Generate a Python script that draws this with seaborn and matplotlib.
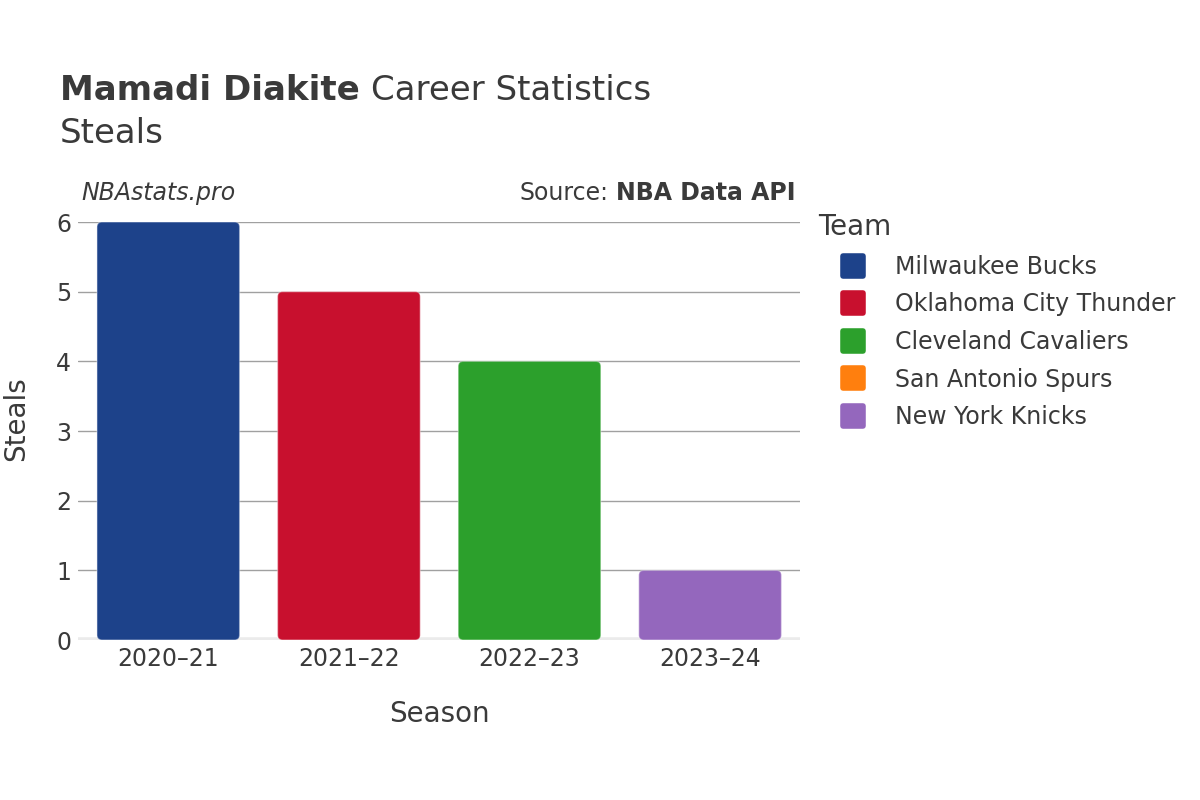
import matplotlib
matplotlib.use("Agg")
import matplotlib.pyplot as plt
import seaborn as sns
import pandas as pd
from matplotlib.patches import FancyBboxPatch
from matplotlib.lines import Line2D
from matplotlib.markers import MarkerStyle

# ===============================
# DATA
# ===============================
seasons = ["2020–21", "2021–22", "2022–23", "2023–24"]
teams = ["Milwaukee Bucks", "Oklahoma City Thunder", "Cleveland Cavaliers", "New York Knicks"]
steals = [6, 5, 4, 1]

legend_teams = ["Milwaukee Bucks", "Oklahoma City Thunder", "Cleveland Cavaliers",
                "San Antonio Spurs", "New York Knicks"]
team_colors = ["#1d428a", "#c8102e", "#2ca02c", "#ff7f0e", "#9467bd"]
palette = dict(zip(legend_teams, team_colors))

df = pd.DataFrame({"Season": seasons, "Team": teams, "Steals": steals})

# ===============================
# STYLE
# ===============================
sns.set_style("white")
plt.rcParams["font.family"] = ["DejaVu Sans"]
text_color = "#3a3a3a"

fig = plt.figure(figsize=(12, 8), dpi=100)
ax = fig.add_axes([0.065, 0.2, 0.602, 0.5225])

sns.barplot(data=df, x="Season", y="Steals", hue="Team", palette=palette,
            dodge=False, width=0.79, ax=ax, legend=False, saturation=1)

# rounded bars
x_per_px = 4 / (0.602 * 1200)
y_per_px = 6 / (0.5225 * 800)
for p in list(ax.patches):
    x, y = p.get_x(), p.get_y()
    w, h = p.get_width(), p.get_height()
    if h <= 0:
        p.remove()
        continue
    fc = p.get_facecolor()
    rb = FancyBboxPatch((x, y), w, h,
                        boxstyle=f"round,pad=0,rounding_size={5 * x_per_px}",
                        mutation_aspect=y_per_px / x_per_px,
                        facecolor=fc, edgecolor=(1, 1, 1, 0.35), linewidth=1, zorder=3)
    p.remove()
    ax.add_patch(rb)

ax.set_xlim(-0.5, 3.5)
ax.set_ylim(0, 6)
ax.set_yticks(range(0, 7))
ax.yaxis.grid(True, color="#a0a0a0", linewidth=1)
ax.set_axisbelow(True)
for s in ax.spines.values():
    s.set_visible(False)
ax.axhline(0, color="#ebebeb", linewidth=4, zorder=2)

ax.tick_params(axis="both", length=0, labelsize=17, labelcolor=text_color, pad=5)
ax.set_xlabel("Season", fontsize=20, color=text_color, labelpad=21)
ax.set_ylabel("Steals", fontsize=20, color=text_color)
ax.yaxis.set_label_coords(-0.066, 0.529)

# ===============================
# TITLES / ANNOTATIONS
# ===============================
fig.canvas.draw()
r = fig.canvas.get_renderer()

t1 = fig.text(0.05, 0.875, "Mamadi Diakite", fontsize=24.5, fontweight="bold",
              color=text_color, va="baseline")
bb = t1.get_window_extent(r)
fig.text((bb.x1 + 11) / 1200, 0.875, "Career Statistics", fontsize=24.5,
         color=text_color, va="baseline")
fig.text(0.05, 0.821, "Steals", fontsize=24.5, color=text_color, va="baseline")

ax.text(0.005, 1.04, "NBAstats.pro", transform=ax.transAxes, fontsize=17,
        style="italic", color=text_color, ha="left", va="bottom")
t2 = fig.text(796 / 1200, 0.7505, "NBA Data API", fontsize=17,
              fontweight="bold", color=text_color, ha="right", va="baseline")
bb2 = t2.get_window_extent(r)
fig.text((bb2.x0 - 8) / 1200, 0.7505, "Source:", fontsize=17,
         color=text_color, ha="right", va="baseline")

# ===============================
# LEGEND
# ===============================
handles = [Line2D([], [], linestyle="none",
                  marker=MarkerStyle("s", joinstyle="round"), markersize=15,
                  markerfacecolor=palette[t], markeredgecolor=palette[t],
                  markeredgewidth=4) for t in legend_teams]
leg = fig.legend(handles, legend_teams, loc="upper left",
                 bbox_to_anchor=(818 / 1200, 1 - 213 / 800), frameon=False,
                 title="Team", fontsize=17, title_fontsize=20,
                 handlelength=3.0, handletextpad=0.25,
                 labelspacing=0.575, borderpad=0, borderaxespad=0)
leg._legend_box.align = "left"
leg._legend_box.sep = 10
for t in leg.get_texts():
    t.set_color(text_color)
leg.get_title().set_color(text_color)

fig.savefig("out.png", dpi=100)
